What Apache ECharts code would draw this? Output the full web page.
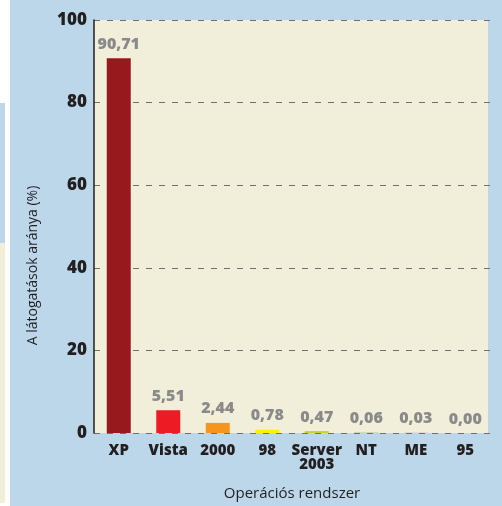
<!DOCTYPE html>
<html>
<head>
<meta charset="utf-8">
<script src="https://cdn.jsdelivr.net/npm/echarts@6/dist/echarts.min.js"></script>
<style>
  html, body { margin: 0; padding: 0; background: #ffffff; }
  #chart { width: 502px; height: 506px; }
</style>
</head>
<body>
<div id="chart"></div>
<script>
  // operációs rendszerek és látogatási arány (%)
  var categories = ['XP', 'Vista', '2000', '98', 'Server\n2003', 'NT', 'ME', '95']
  var shares = [90.71, 5.51, 2.44, 0.78, 0.47, 0.06, 0.03, 0.00]
  var barColors = ['#97191e', '#ed1c24', '#f7941d', '#fff200', '#c9d52b', '#5f9a3c', '#8a5a9e', '#5a7fb8']

  var dark = '#231f20'
  var font = '"Open Sans", sans-serif'

  var chart = echarts.init(document.getElementById('chart'))
  var option = {
    backgroundColor: '#bcd7ea',
    animation: false,
    graphic: [
      // bal oldali lapszél
      { type: 'rect', z: -10, shape: { x: 0, y: 0, width: 10, height: 506 }, style: { fill: '#ffffff' } },
      { type: 'rect', z: -10, shape: { x: 0, y: 103, width: 5, height: 140 }, style: { fill: '#bcd7ea' } },
      { type: 'rect', z: -10, shape: { x: 0, y: 243, width: 5, height: 260 }, style: { fill: '#f1eeda' } },
      // rajzterület háttere
      { type: 'rect', z: -10, shape: { x: 94, y: 20, width: 394, height: 413 }, style: { fill: '#f1eeda' } }
    ],
    grid: {
      left: 94,
      right: 12,
      top: 20,
      bottom: 73,
      outerBoundsMode: 'none',
      containLabel: false
    },
    xAxis: {
      type: 'category',
      data: categories,
      name: 'Operációs rendszer',
      nameLocation: 'middle',
      nameGap: 53,
      nameTextStyle: { color: dark, fontFamily: font, fontSize: 15 },
      axisLine: { show: false },
      axisTick: { show: false },
      axisLabel: {
        color: dark,
        fontFamily: font,
        fontWeight: 800,
        fontSize: 15,
        lineHeight: 14,
        margin: 11,
        interval: 0
      }
    },
    yAxis: {
      type: 'value',
      min: 0,
      max: 100,
      interval: 20,
      name: 'A látogatások aránya (%)',
      nameLocation: 'middle',
      nameRotate: 90,
      nameGap: 54,
      nameTextStyle: { color: dark, fontFamily: font, fontSize: 14, padding: [0, 78, 0, 0] },
      axisLine: { show: true, lineStyle: { color: dark, width: 1.5 } },
      axisTick: { show: false },
      axisLabel: {
        color: dark,
        fontFamily: font,
        fontWeight: 800,
        fontSize: 17,
        margin: 7
      },
      splitLine: {
        show: true,
        lineStyle: { color: '#6f6f6f', width: 1, type: [6, 7] }
      }
    },
    series: [
      {
        type: 'bar',
        barWidth: 24,
        data: shares.map(function (v, i) {
          return { value: v, itemStyle: { color: barColors[i] } }
        }),
        label: {
          show: true,
          position: 'top',
          distance: 6,
          color: '#8a8a8a',
          fontFamily: font,
          fontWeight: 800,
          fontSize: 16,
          formatter: function (p) {
            return p.value.toFixed(2).replace('.', ',')
          }
        }
      }
    ]
  }
  chart.setOption(option)
</script>
</body>
</html>
